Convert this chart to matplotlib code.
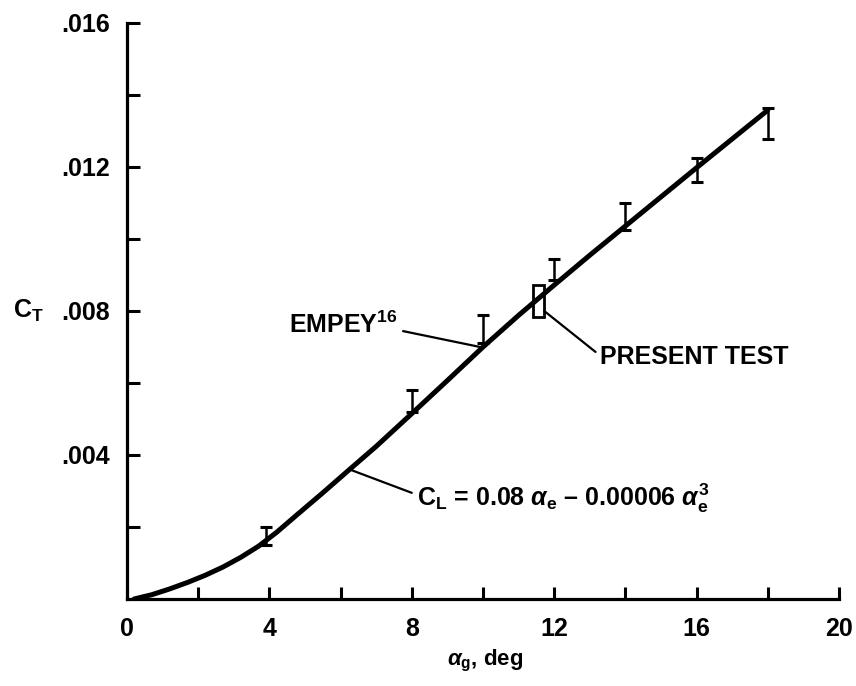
import numpy as np
import matplotlib
matplotlib.use("Agg")
import matplotlib.pyplot as plt

plt.rcParams['font.family'] = ['Liberation Sans', 'DejaVu Sans']
plt.rcParams['font.weight'] = 'bold'
plt.rcParams['axes.labelweight'] = 'bold'
plt.rcParams['mathtext.fontset'] = 'custom'
plt.rcParams['mathtext.rm'] = 'Liberation Sans:bold'
plt.rcParams['mathtext.it'] = 'Liberation Sans:italic'
plt.rcParams['mathtext.bf'] = 'Liberation Sans:bold'

# faired curve C_T vs alpha_g
curve_alpha = [0.2, 0.7, 1.2, 1.7, 2.2, 2.7, 3.2, 3.7, 4.2, 4.8, 5.5, 6.3, 7.0,
               8.0, 9.0, 10.0, 11.0, 12.0, 13.0, 14.0, 15.0, 16.0, 17.0, 18.0]
curve_ct = [0.0, 0.00012, 0.00028, 0.00046, 0.00066, 0.00089, 0.00116, 0.00147,
            0.00185, 0.00236, 0.00295, 0.00364, 0.00424,
            0.00515, 0.00607, 0.00700, 0.00788, 0.00872, 0.00955, 0.01036,
            0.01117, 0.01198, 0.01278, 0.01358]

# Empey data, error bar ranges
empey_alpha = [3.9, 8.0, 10.0, 12.0, 14.0, 16.0, 18.0]
empey_lo = [0.0015, 0.0052, 0.0071, 0.00886, 0.01025, 0.01158, 0.01278]
empey_hi = [0.0020, 0.0058, 0.00789, 0.00944, 0.0110, 0.01225, 0.01364]

# present test (box)
present_alpha = [11.4, 11.7]
present_ct = [0.00783, 0.00872]

x_ticks = [0, 4, 8, 12, 16, 20]
x_minor = [2, 6, 10, 14, 18]
x_labels = ["0", "4", "8", "12", "16", "20"]
y_ticks = [0.004, 0.008, 0.012, 0.016]
y_minor = [0.002, 0.006, 0.010, 0.014]
y_labels = [".004", ".008", ".012", ".016"]

fig = plt.figure(figsize=(8.56, 6.86), dpi=100)
ax = fig.add_axes([127 / 856, 87 / 686, 712 / 856, 576 / 686])

ax.plot(curve_alpha, curve_ct, color="black", lw=3.6, solid_capstyle="round",
        solid_joinstyle="round", zorder=3)

lo = np.array(empey_lo)
hi = np.array(empey_hi)
mid = (lo + hi) / 2
ax.errorbar(empey_alpha, mid, yerr=(hi - lo) / 2, fmt="none", ecolor="black",
            elinewidth=1.8, capsize=4.5, capthick=2.2, zorder=4)

ax.bar((present_alpha[0] + present_alpha[1]) / 2, present_ct[1] - present_ct[0],
       width=present_alpha[1] - present_alpha[0], bottom=present_ct[0],
       fill=False, edgecolor="black", linewidth=2, zorder=4)

ax.set_xlim(0, 20)
ax.set_ylim(0, 0.016)
ax.spines["top"].set_visible(False)
ax.spines["right"].set_visible(False)
for s in ("left", "bottom"):
    ax.spines[s].set_linewidth(2.3)

ax.set_xticks(x_ticks)
ax.set_xticklabels(x_labels)
ax.set_xticks(x_minor, minor=True)
ax.set_yticks(y_ticks)
ax.set_yticklabels(y_labels)
ax.set_yticks(y_minor, minor=True)
ax.tick_params(which="both", direction="in", length=9, width=2.2)
ax.tick_params(axis="x", which="major", labelsize=18, pad=13)
ax.tick_params(axis="y", which="major", labelsize=18, pad=12)

ax.set_xlabel(r"$\alpha_\mathrm{g}$, deg", fontsize=16, fontweight="bold")
ax.xaxis.set_label_coords(0.503, -0.085)
ax.set_ylabel(r"C$_\mathrm{T}$", fontsize=18, fontweight="bold", rotation=0,
              va="center", ha="center")
ax.yaxis.set_label_coords(-0.139, 0.5)

line = dict(arrowstyle="-", color="black", lw=1.6, shrinkA=2, shrinkB=0)
ax.annotate("EMPEY$^{16}$", xy=(9.92, 0.0070), xytext=(7.6, 0.00762),
            ha="right", va="center", fontsize=18,
            arrowprops=dict(line, relpos=(1.0, 0.3)))
ax.annotate("PRESENT TEST", xy=(11.72, 0.0080), xytext=(13.3, 0.00672),
            ha="left", va="center", fontsize=18,
            arrowprops=dict(line, relpos=(0.0, 0.55)))
ax.annotate(r"C$_\mathrm{L}$ = 0.08 $\alpha_\mathrm{e}$ – 0.00006 $\alpha_\mathrm{e}^3$",
            xy=(6.25, 0.00360), xytext=(8.15, 0.0028),
            ha="left", va="center", fontsize=18,
            arrowprops=dict(line, relpos=(0.0, 0.6)))

fig.savefig("out.png", dpi=100)
